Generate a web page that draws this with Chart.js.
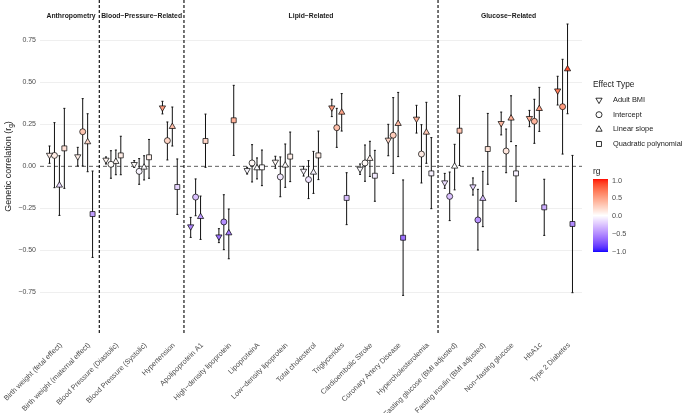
<!DOCTYPE html>
<html>
<head>
<meta charset="utf-8">
<script src="https://cdn.jsdelivr.net/npm/chart.js@4.4.1/dist/chart.umd.min.js"></script>
<style>
  html, body { margin: 0; padding: 0; background: #fff; }
</style>
</head>
<body>
<canvas id="chart" width="682" height="413"></canvas>
<script>
// Categories (x axis)
const traits = [
  'Birth weight (fetal effect)', 'Birth weight (maternal effect)',
  'Blood Pressure (Diastolic)', 'Blood Pressure (Systolic)', 'Hypertension',
  'Apolipoprotein A1', 'High\u2212density lipoprotein', 'LipoproteinA',
  'Low\u2212density lipoprotein', 'Total cholesterol', 'Triglycerides',
  'Cardioembolic Stroke', 'Coronary Artery Disease', 'Hypercholesterolemia',
  'Fasting glucose (BMI adjusted)', 'Fasting insulin (BMI adjusted)',
  'Non\u2212fasting glucose', 'HbA1c', 'Type 2 Diabetes'
];
const effectTypes = ['Adult BMI', 'Intercept', 'Linear slope', 'Quadratic polynomial'];

// Genetic correlation estimates and confidence limits, one entry per trait
const adultBmiRg = [0.067, 0.058, 0.038, 0.012, 0.349, -0.359, -0.419, -0.024, 0.026, -0.028, 0.349, -0.016, 0.157, 0.282, -0.097, -0.121, 0.256, 0.286, 0.450];
const adultBmiLo = [0.018, 0.002, 0.014, -0.006, 0.312, -0.423, -0.454, -0.046, -0.012, -0.058, 0.296, -0.048, 0.063, 0.198, -0.131, -0.171, 0.187, 0.236, 0.365];
const adultBmiHi = [0.121, 0.113, 0.056, 0.034, 0.387, -0.304, -0.371, -0.006, 0.060, 0.000, 0.399, 0.014, 0.250, 0.363, -0.042, -0.069, 0.323, 0.333, 0.536];

const interceptRg = [0.065, 0.206, 0.012, -0.030, 0.153, -0.183, -0.331, 0.020, -0.063, -0.079, 0.230, 0.020, 0.185, 0.073, -0.179, -0.319, 0.091, 0.268, 0.355];
const interceptLo = [-0.127, 0.002, -0.071, -0.107, 0.038, -0.294, -0.496, -0.093, -0.181, -0.192, 0.113, -0.089, -0.042, -0.099, -0.323, -0.498, -0.038, 0.137, 0.073];
const interceptHi = [0.260, 0.403, 0.093, 0.046, 0.264, -0.075, -0.169, 0.129, 0.056, 0.034, 0.345, 0.127, 0.409, 0.248, -0.034, -0.137, 0.222, 0.399, 0.637];

const linearRg = [-0.113, 0.145, 0.028, -0.006, 0.236, -0.300, -0.397, -0.010, 0.006, -0.036, 0.321, 0.046, 0.254, 0.202, 0.000, -0.192, 0.286, 0.343, 0.579];
const linearLo = [-0.292, -0.032, -0.050, -0.081, 0.121, -0.435, -0.550, -0.075, -0.125, -0.161, 0.210, -0.060, 0.058, 0.018, -0.140, -0.359, 0.147, 0.208, 0.313];
const linearHi = [0.063, 0.313, 0.097, 0.063, 0.353, -0.177, -0.254, 0.050, 0.133, 0.089, 0.433, 0.149, 0.440, 0.381, 0.131, -0.030, 0.420, 0.470, 0.847];

const quadRg = [0.107, -0.284, 0.065, 0.054, -0.123, 0.151, 0.274, -0.006, 0.058, 0.065, -0.188, -0.056, -0.425, -0.042, 0.212, 0.103, -0.042, -0.244, -0.343];
const quadLo = [-0.131, -0.542, -0.050, -0.071, -0.286, -0.006, 0.065, -0.115, -0.091, -0.079, -0.347, -0.208, -0.768, -0.252, 0.005, -0.107, -0.208, -0.411, -0.752];
const quadHi = [0.345, -0.028, 0.179, 0.160, 0.044, 0.311, 0.482, 0.097, 0.204, 0.210, -0.038, 0.095, -0.081, 0.171, 0.420, 0.315, 0.123, -0.077, 0.065];

// Trait groups: label, centre (category index) and separators between groups
const groupLabels = ['Anthropometry', 'Blood\u2212Pressure\u2212Related', 'Lipid\u2212Related', 'Glucose\u2212Related'];
const groupCenters = [0.5, 3, 9, 16];
const groupSeparators = [1.5, 4.5, 13.5];

const yTicks = [-0.75, -0.5, -0.25, 0, 0.25, 0.5, 0.75];
const rgLegendTicks = [1, 0.5, 0, -0.5, -1];

const FONT = '"Liberation Sans", Arial, Helvetica, sans-serif';
const dodge = [-0.2625, -0.0875, 0.0875, 0.2625];

// ---- blue / white / red colour scale, interpolated in Lab like ggplot ----
function toLin(c) { c /= 255; return c <= 0.04045 ? c / 12.92 : Math.pow((c + 0.055) / 1.055, 2.4); }
function fromLin(c) {
  c = Math.max(0, Math.min(1, c));
  const v = c <= 0.0031308 ? 12.92 * c : 1.055 * Math.pow(c, 1 / 2.4) - 0.055;
  return Math.round(v * 255);
}
function rgbToLab(r, g, b) {
  r = toLin(r); g = toLin(g); b = toLin(b);
  const X = (0.4124 * r + 0.3576 * g + 0.1805 * b) / 0.95047;
  const Y = (0.2126 * r + 0.7152 * g + 0.0722 * b);
  const Z = (0.0193 * r + 0.1192 * g + 0.9505 * b) / 1.08883;
  const f = t => t > 0.008856 ? Math.cbrt(t) : 7.787 * t + 16 / 116;
  const fx = f(X), fy = f(Y), fz = f(Z);
  return [116 * fy - 16, 500 * (fx - fy), 200 * (fy - fz)];
}
function labToRgb(L, a, b) {
  const fy = (L + 16) / 116, fx = fy + a / 500, fz = fy - b / 200;
  const inv = t => t * t * t > 0.008856 ? t * t * t : (t - 16 / 116) / 7.787;
  const X = inv(fx) * 0.95047, Y = inv(fy), Z = inv(fz) * 1.08883;
  const r = 3.2406 * X - 1.5372 * Y - 0.4986 * Z;
  const g = -0.9689 * X + 1.8758 * Y + 0.0415 * Z;
  const bb = 0.0557 * X - 0.2040 * Y + 1.0570 * Z;
  return 'rgb(' + fromLin(r) + ',' + fromLin(g) + ',' + fromLin(bb) + ')';
}
const labLow = rgbToLab(0, 0, 255), labMid = rgbToLab(255, 255, 255), labHigh = rgbToLab(255, 0, 0);
function rgColor(v, gain) {
  v = Math.max(-1, Math.min(1, v));
  const end = v >= 0 ? labHigh : labLow;
  const t = Math.min(1, Math.abs(v) * (gain || 1));
  return labToRgb(
    labMid[0] + (end[0] - labMid[0]) * t,
    labMid[1] + (end[1] - labMid[1]) * t,
    labMid[2] + (end[2] - labMid[2]) * t
  );
}
// small filled markers read darker than the bar, so push their fill a little
const pointColor = v => rgColor(v, 1.45);

const series = [
  { rg: adultBmiRg, lo: adultBmiLo, hi: adultBmiHi, style: 'triangle', rot: 180, r: 3.6 },
  { rg: interceptRg, lo: interceptLo, hi: interceptHi, style: 'circle', rot: 0, r: 3 },
  { rg: linearRg, lo: linearLo, hi: linearHi, style: 'triangle', rot: 0, r: 3.6 },
  { rg: quadRg, lo: quadLo, hi: quadHi, style: 'rect', rot: 0, r: 3.5 }
];

const datasets = series.map((s, k) => ({
  label: effectTypes[k],
  data: s.rg.map((v, i) => ({ x: i + dodge[k], y: v })),
  pointStyle: s.style,
  rotation: s.rot,
  pointRadius: s.r,
  pointHoverRadius: s.r,
  backgroundColor: s.rg.map(pointColor),
  borderColor: '#000',
  borderWidth: 0.7
}));

const decor = {
  id: 'decor',
  beforeDatasetsDraw(chart) {
    const { ctx, chartArea: a, scales: { x, y } } = chart;
    ctx.save();
    // zero reference line
    const y0 = y.getPixelForValue(0);
    ctx.strokeStyle = '#4d4d4d';
    ctx.lineWidth = 0.9;
    ctx.setLineDash([4, 3]);
    ctx.beginPath();
    ctx.moveTo(a.left, y0);
    ctx.lineTo(a.right, y0);
    ctx.stroke();
    // group separators
    ctx.strokeStyle = '#000';
    ctx.lineWidth = 1.1;
    ctx.setLineDash([3, 2]);
    groupSeparators.forEach(s => {
      const px = x.getPixelForValue(s);
      ctx.beginPath();
      ctx.moveTo(px, a.top);
      ctx.lineTo(px, a.bottom);
      ctx.stroke();
    });
    ctx.setLineDash([]);
    // group titles
    ctx.fillStyle = '#1a1a1a';
    ctx.font = 'bold 6.8px ' + FONT;
    ctx.textAlign = 'center';
    ctx.textBaseline = 'middle';
    groupLabels.forEach((g, i) => {
      ctx.fillText(g, x.getPixelForValue(groupCenters[i]), y.getPixelForValue(0.895));
    });
    // error bars
    ctx.strokeStyle = '#111';
    ctx.lineWidth = 1;
    series.forEach((s, k) => {
      s.rg.forEach((v, i) => {
        const px = x.getPixelForValue(i + dodge[k]);
        const pl = y.getPixelForValue(s.lo[i]);
        const ph = y.getPixelForValue(s.hi[i]);
        ctx.beginPath();
        ctx.moveTo(px, pl);
        ctx.lineTo(px, ph);
        ctx.moveTo(px - 1, pl);
        ctx.lineTo(px + 1, pl);
        ctx.moveTo(px - 1, ph);
        ctx.lineTo(px + 1, ph);
        ctx.stroke();
      });
    });
    ctx.restore();
  },
  afterDraw(chart) {
    const { ctx, chartArea: a } = chart;
    ctx.save();
    // y axis title with subscript
    ctx.fillStyle = '#1a1a1a';
    ctx.textBaseline = 'middle';
    ctx.translate(9, (a.top + a.bottom) / 2);
    ctx.rotate(-Math.PI / 2);
    const mainFont = '9px ' + FONT, subFont = '6.5px ' + FONT;
    ctx.font = mainFont;
    const p1 = 'Genetic correlation (r', p3 = ')';
    const w1 = ctx.measureText(p1).width, w3 = ctx.measureText(p3).width;
    ctx.font = subFont;
    const w2 = ctx.measureText('g').width;
    let sx = -(w1 + w2 + w3) / 2;
    ctx.textAlign = 'left';
    ctx.font = mainFont;
    ctx.fillText(p1, sx, 0);
    ctx.font = subFont;
    ctx.fillText('g', sx + w1, 2.2);
    ctx.font = mainFont;
    ctx.fillText(p3, sx + w1 + w2, 0);
    ctx.restore();

    // legend: effect type
    ctx.save();
    ctx.fillStyle = '#1a1a1a';
    ctx.textBaseline = 'middle';
    ctx.textAlign = 'left';
    ctx.font = '8.3px ' + FONT;
    ctx.fillText('Effect Type', 593, 85);
    ctx.font = '7.4px ' + FONT;
    const itemY = [100, 114.7, 129.4, 144];
    series.forEach((s, k) => {
      ctx.strokeStyle = '#000';
      ctx.fillStyle = '#fff';
      ctx.lineWidth = 0.8;
      Chart.helpers.drawPoint(ctx, { pointStyle: s.style, rotation: s.rot, radius: s.r, borderWidth: 0.8 }, 599, itemY[k]);
      ctx.fillStyle = '#1a1a1a';
      ctx.fillText(effectTypes[k], 613, itemY[k]);
    });
    // legend: colour bar
    ctx.font = '8.3px ' + FONT;
    ctx.fillText('rg', 593, 172);
    const barTop = 179, barBot = 252, barL = 593, barW = 15;
    for (let yy = barTop; yy < barBot; yy++) {
      const v = 1 - 2 * (yy + 0.5 - barTop) / (barBot - barTop);
      ctx.fillStyle = rgColor(v);
      ctx.fillRect(barL, yy, barW, 1);
    }
    ctx.fillStyle = '#4d4d4d';
    ctx.font = '7.3px ' + FONT;
    rgLegendTicks.forEach(v => {
      const ty = 180.5 + (1 - v) / 2 * 71;
      const txt = (v < 0 ? '\u2212' : '') + Math.abs(v).toFixed(1);
      ctx.fillText(txt, 612, ty);
    });
    ctx.restore();
  }
};

new Chart(document.getElementById('chart'), {
  type: 'scatter',
  data: { datasets },
  options: {
    responsive: false,
    animation: false,
    layout: { autoPadding: false, padding: { top: 0, right: 100, left: 0, bottom: 0 } },
    plugins: { legend: { display: false }, tooltip: { enabled: false } },
    scales: {
      x: {
        type: 'linear',
        min: -0.6,
        max: traits.length - 0.4,
        afterBuildTicks: s => { s.ticks = traits.map((t, i) => ({ value: i })); },
        afterFit: s => { s.height = 80; s.paddingLeft = 0; s.paddingRight = 0; },
        grid: { display: false },
        border: { display: false },
        ticks: {
          autoSkip: false,
          minRotation: 45,
          maxRotation: 45,
          padding: 0,
          labelOffset: 4,
          color: '#4d4d4d',
          font: { family: FONT, size: 7.3 },
          callback: v => traits[v]
        }
      },
      y: {
        min: -0.992,
        max: 0.99,
        afterBuildTicks: s => { s.ticks = yTicks.map(v => ({ value: v })); },
        afterFit: s => { s.width = 40; s.paddingTop = 0; s.paddingBottom = 0; },
        grid: {
          drawTicks: false,
          color: c => (c.tick && c.tick.value === 0) ? 'rgba(0,0,0,0)' : '#ebebeb',
          lineWidth: 0.8
        },
        border: { display: false },
        ticks: {
          padding: 4,
          color: '#4d4d4d',
          font: { family: FONT, size: 7 },
          callback: v => (v < 0 ? '\u2212' : '') + Math.abs(v).toFixed(2)
        }
      }
    }
  },
  plugins: [decor]
});
</script>
</body>
</html>
